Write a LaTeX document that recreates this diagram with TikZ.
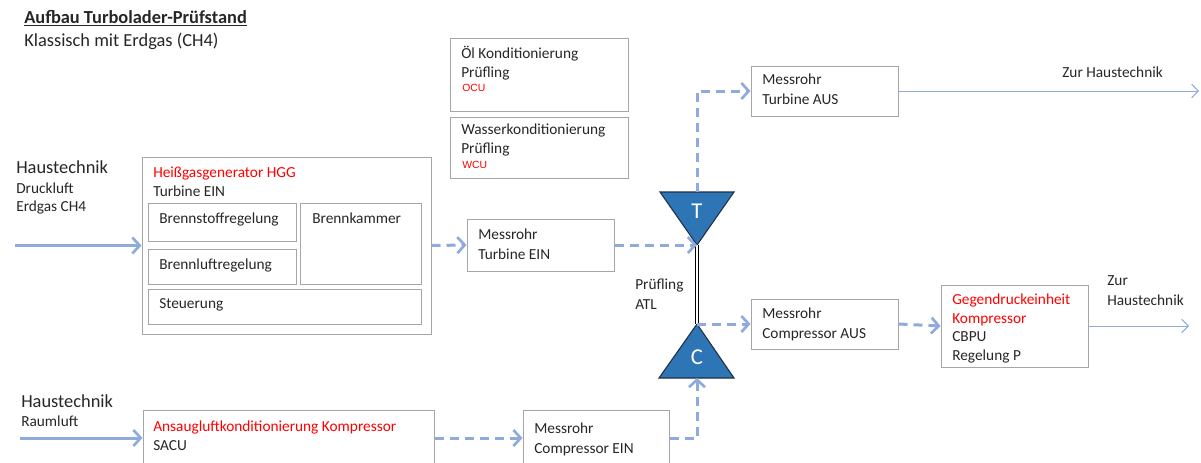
\documentclass[tikz,border=0pt]{standalone}
\usepackage{fontspec}
\setmainfont{Carlito}
\newfontfamily\arialf{Liberation Sans}
\usetikzlibrary{arrows.meta,fit}
\definecolor{boxgray}{HTML}{A6A6A6}
\definecolor{flowblue}{HTML}{8FAADC}
\definecolor{trifill}{HTML}{2E75B6}
\definecolor{triedge}{HTML}{1F2F45}
\definecolor{txtcol}{HTML}{262626}
\definecolor{redtxt}{HTML}{FF0000}
\tikzset{
  box/.style={draw=boxgray, line width=0.75pt, inner sep=0pt},
  txt/.style={anchor=base west, inner sep=0pt, align=left, text=txtcol, font=\fontsize{11.5}{14.6}\selectfont},
  bigtxt/.style={txt, font=\fontsize{13.8}{17}\selectfont},
  redsmall/.style={anchor=base west, inner sep=0pt, text=redtxt, font=\arialf\fontsize{7.8}{9}\selectfont},
  flow/.style={draw=flowblue, line width=2.25pt, -{Straight Barb[length=5.5pt,width=12pt,line width=2pt]}},
  dflow/.style={flow, dash pattern=on 6.75pt off 4.5pt},
  thinflow/.style={draw=flowblue, line width=0.75pt, -{Straight Barb[length=5pt,width=10pt,line width=0.75pt]}},
  tri/.style={fill=trifill, draw=triedge, line width=0.8pt, line join=miter},
  triletter/.style={inner sep=0pt, text=white, font=\fontsize{17}{20}\selectfont},
}
\begin{document}
\begin{tikzpicture}[x=0.75pt, y=-0.75pt]
\useasboundingbox (0,0) rectangle (1201,462);
\clip (0,0) rectangle (1201,462);

% title (multi-line nodes are placed at the baseline of their last line)
\node[bigtxt, font=\bfseries\fontsize{13.8}{17}\selectfont] (title) at (24,23) {Aufbau Turbolader-Prüfstand};
\draw[txtcol, line width=1pt] (title.south west) ++(0,2) coordinate (ulA) -- (ulA -| title.south east);
\node[bigtxt] (subtitle) at (24,46) {Klassisch mit Erdgas (CH4)};

% OCU / WCU
\node[box, fit={(450,38) (628,111)}] (ocu) {};
\node[txt, font=\fontsize{11.5}{14.25}\selectfont] (ocutxt) at (461,77) {Öl Konditionierung\\Prüfling};
\node[redsmall] (ocured) at (462,91) {OCU};
\node[box, fit={(450,117) (628,178)}] (wcu) {};
\node[txt, font=\fontsize{11.5}{14.25}\selectfont] (wcutxt) at (461,153) {Wasserkonditionierung\\Prüfling};
\node[redsmall] (wcured) at (462,168) {WCU};

% Haustechnik left
\node[bigtxt] (haus1) at (16,173) {Haustechnik};
\node[txt, font=\fontsize{11.5}{13.5}\selectfont] (haus1sub) at (16,211) {Druckluft\\Erdgas CH4};

% HGG
\node[box, fit={(142,157) (431,334)}] (hgg) {};
\node[txt, text=redtxt] (hggtxt) at (153,177) {Heißgasgenerator HGG};
\node[txt] (hggsub) at (153,196) {Turbine EIN};
\node[box, fit={(148,203) (296,241)}] (bstoff) {};
\node[txt] (bstofftxt) at (159,223) {Brennstoffregelung};
\node[box, fit={(148,249) (296,284)}] (bluft) {};
\node[txt] (blufttxt) at (159,269) {Brennluftregelung};
\node[box, fit={(300,203) (421,284)}] (bkam) {};
\node[txt] (bkamtxt) at (312,223) {Brennkammer};
\node[box, fit={(148,289) (421,324)}] (steu) {};
\node[txt] (steutxt) at (159,308) {Steuerung};

% Messrohr Turbine EIN
\node[box, fit={(467,219) (614,271)}] (mtein) {};
\node[txt] (mteintxt) at (478,259) {Messrohr\\Turbine EIN};

% Turbocharger
\coordinate (tapex) at (697,245);
\coordinate (ttop) at (697,192);
\coordinate (capex) at (697,324);
\coordinate (cbase) at (697,378);
\draw[tri] (660,192) -- (734,192) -- (tapex) -- cycle;
\draw[tri] (659,378) -- (734,378) -- (capex) -- cycle;
\node[triletter] (T) at (697,211) {T};
\node[triletter] (C) at (697,357) {C};
\draw[double=white, double distance=1.3pt, line width=0.9pt, draw=black] (tapex) -- (capex);
\node[txt] (atl) at (635,309) {Prüfling\\ATL};

% Messrohr Turbine AUS
\node[box, fit={(751,66) (898,116)}] (mtaus) {};
\node[txt] (mtaustxt) at (762,104) {Messrohr\\Turbine AUS};
\coordinate (out1) at (1199,91);
\node[txt] (zur1) at (1062,77) {Zur Haustechnik};

% Messrohr Compressor AUS
\node[box, fit={(751,299) (898,349)}] (mcaus) {};
\node[txt] (mcaustxt) at (762,338) {Messrohr\\Compressor AUS};

% CBPU
\node[box, fit={(941,285) (1088,367)}] (cbpu) {};
\node[txt, text=redtxt, font=\fontsize{11.5}{14.25}\selectfont] (cbpured) at (952,323) {Gegendruckeinheit\\Kompressor};
\node[txt, font=\fontsize{11.5}{14}\selectfont] (cbputxt) at (952,360) {CBPU\\Regelung P};
\coordinate (out2) at (1189,326);
\node[txt] (zur2) at (1107,305) {Zur\\Haustechnik};

% bottom row
\node[bigtxt] (haus2) at (21,407) {Haustechnik};
\node[txt] (haus2sub) at (21,426) {Raumluft};
\coordinate (in2) at (20,438);
\coordinate (in1) at (15,245.5);
\node[box, fit={(143,410) (434,466)}] (sacu) {};
\node[txt, text=redtxt] (sacured) at (153,431) {Ansaugluftkonditionierung Kompressor};
\node[txt] (sacutxt) at (153,450) {SACU};
\node[box, fit={(523,410) (669,466)}] (mcein) {};
\node[txt] (mceintxt) at (534,453) {Messrohr\\Compressor EIN};

% connectors
\draw[flow] (in1) -- (hgg.west);
\draw[dflow] (hgg.east) -- (mtein.west);
\draw[dflow] (mtein.east) -- (tapex);
\draw[dflow] (ttop) |- (mtaus.west);
\draw[thinflow] (mtaus.east) -- (out1);
\draw[dflow] (capex) -- (mcaus.west);
\draw[dflow] (mcaus.east) -- (cbpu.west);
\draw[thinflow] (cbpu.east) -- (out2);
\draw[flow] (in2) -- (sacu.west);
\draw[dflow] (sacu.east) -- (mcein.west);
\draw[dflow] (mcein.east) -| (cbase);
\end{tikzpicture}
\end{document}
